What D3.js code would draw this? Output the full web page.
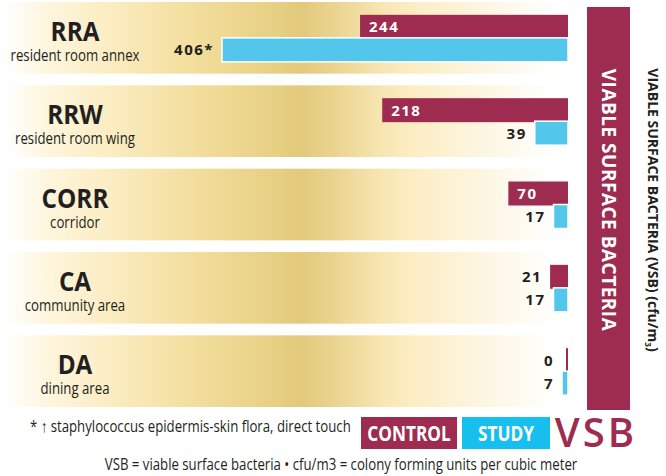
<!DOCTYPE html>
<html><head><meta charset="utf-8">
<script src="https://cdn.jsdelivr.net/npm/d3@7"></script>
<style>
body{margin:0;background:#fff;}
svg{display:block;}
</style></head>
<body><svg id="c" width="666" height="476"></svg>
<script>
const codes = ["RRA","RRW","CORR","CA","DA"];
const names = ["resident room annex","resident room wing","corridor","community area","dining area"];
const control = [244,218,70,21,0];
const study = [406,39,17,17,7];
const studyNotes = ["*","","","",""];
const seriesNames = ["CONTROL","STUDY"];

const MAROON = "#9e2c50", BLUE = "#52c7eb", LEG_BLUE = "#17bfee", INK = "#231f20";
const FONT = "'Open Sans',sans-serif";
const svg = d3.select("#c");

const y = d3.scaleBand().domain(codes).range([2, 407]).paddingInner(0.14);
const x = d3.scaleLinear().domain([0, 406]).range([568, 222]);

// condensed text helper: horizontally squeezed text
function ctext(parent, px, py, sx){
  return parent.append("text")
    .attr("transform", (d,i)=>`translate(${typeof px==="function"?px(d,i):px},${typeof py==="function"?py(d,i):py}) scale(${sx},1)`)
    .attr("font-family", FONT);
}

const defs = svg.append("defs");
const g = defs.append("linearGradient").attr("id","gold").attr("x1","0").attr("x2","1").attr("y1","0").attr("y2","0");
[[0,"#ffffff"],[0.08,"#fef5dc"],[0.2,"#fbecc0"],[0.33,"#f3df9f"],[0.47,"#e9d287"],[0.54,"#e2c97b"],[0.6,"#ead490"],[0.68,"#f7e5b0"],[0.74,"#fcedc3"],[0.86,"#fdf5df"],[1,"#ffffff"]]
 .forEach(([o,c])=>g.append("stop").attr("offset",o).attr("stop-color",c));

const rows = svg.append("g").selectAll("g").data(codes).join("g");
rows.append("rect").attr("x",5).attr("width",550).attr("y",d=>y(d)).attr("height",y.bandwidth()).attr("fill","url(#gold)");

const cy = d => y(d) + y.bandwidth()/2;
ctext(rows, 75, d=>cy(d)+3, 0.9).attr("text-anchor","middle")
  .attr("font-weight",700).attr("font-size",27).attr("fill",INK).text(d=>d);
ctext(rows, 75, d=>cy(d)+23, 0.8).attr("text-anchor","middle")
  .attr("font-size",16.5).attr("fill",INK).text((d,i)=>names[i]);

// control bars
rows.append("rect").attr("x",(d,i)=>Math.min(x(control[i]), x(0)-2)).attr("width",(d,i)=>Math.max(x(0)-x(control[i]),2))
  .attr("y",d=>cy(d)-23).attr("height",24).attr("fill",MAROON);
// study bars
rows.append("rect").attr("x",(d,i)=>x(study[i])).attr("width",(d,i)=>x(0)-x(study[i]))
  .attr("y",d=>cy(d)).attr("height",24).attr("fill",BLUE).attr("stroke","#fff").attr("stroke-width",1.5);

// control labels
rows.append("text").attr("font-family",FONT).attr("font-weight",700).attr("font-size",15).attr("letter-spacing",1.5)
  .each(function(d,i){
    const v = control[i], w = x(0)-x(v), inside = w > 40;
    d3.select(this).attr("x", inside ? x(v)+9 : Math.min(x(v), x(0)-6)-8)
      .attr("text-anchor", inside ? "start" : "end")
      .attr("fill", inside ? "#fff" : INK);
  })
  .attr("y",d=>cy(d)-11+5.5).text((d,i)=>control[i]);
// study labels
rows.append("text").attr("font-family",FONT).attr("font-weight",700).attr("font-size",15).attr("letter-spacing",1.5)
  .attr("x",(d,i)=>Math.min(x(study[i]), x(0)-6)-8).attr("text-anchor","end").attr("fill",INK)
  .attr("y",d=>cy(d)+12+5.5).text((d,i)=>study[i]+studyNotes[i]);

// right maroon panel
svg.append("rect").attr("x",587).attr("y",7).attr("width",43).attr("height",403).attr("fill",MAROON);
svg.append("text").attr("transform","translate(602,200) rotate(90)").attr("text-anchor","middle")
  .attr("font-family",FONT).attr("font-weight",700).attr("font-size",19).attr("letter-spacing",0.5)
  .attr("fill","#fff").text("VIABLE SURFACE BACTERIA");
const vt = svg.append("text").attr("transform","translate(648,210) rotate(90)").attr("text-anchor","middle")
  .attr("font-family",FONT).attr("font-weight",700).attr("font-size",14)
  .attr("fill",INK);
vt.append("tspan").text("VIABLE SURFACE BACTERIA (VSB) (cfu/m");
vt.append("tspan").attr("font-size",8).attr("dy",3).text("3");
vt.append("tspan").attr("dy",-3).text(")");

// legend
const leg = [{t:seriesNames[0],x:361,w:96,c:MAROON},{t:seriesNames[1],x:462,w:88,c:LEG_BLUE}];
const lg = svg.append("g").selectAll("g").data(leg).join("g");
lg.append("rect").attr("x",d=>d.x).attr("y",417).attr("width",d=>d.w).attr("height",32).attr("fill",d=>d.c);
ctext(lg, d=>d.x+d.w/2, 441, 0.82).attr("text-anchor","middle")
  .attr("font-weight",700).attr("font-size",21).attr("fill","#fff").text(d=>d.t);
svg.append("text").attr("x",596).attr("y",447).attr("text-anchor","middle").attr("font-family",FONT)
  .attr("font-weight",600).attr("font-size",40).attr("letter-spacing",3).attr("fill",MAROON).text("VSB");

ctext(svg, 30, 432, 0.8).attr("font-size",16.5).attr("fill",INK)
  .text("* \u2191 staphylococcus epidermis-skin flora, direct touch");
ctext(svg, 341, 470, 0.8).attr("text-anchor","middle").attr("font-size",16.5).attr("fill",INK)
  .text("VSB = viable surface bacteria  \u2022  cfu/m3 = colony forming units per cubic meter");
</script></body></html>
